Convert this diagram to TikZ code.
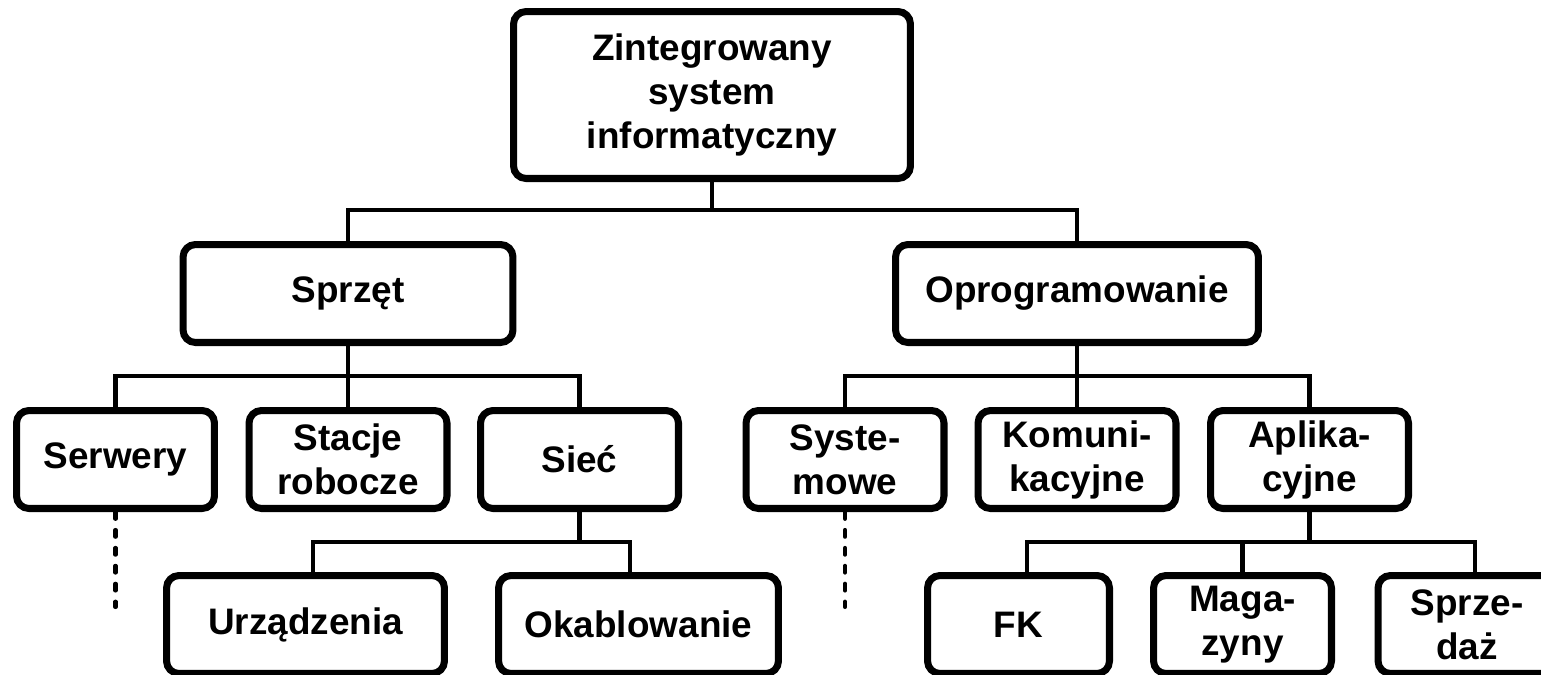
\documentclass[tikz,border=0pt]{standalone}
\usepackage{fontspec}
\setmainfont{Liberation Sans}
\usepackage{tikz}
\usetikzlibrary{positioning}

\tikzset{
  blok/.style={draw, line width=4pt, rounded corners=0.25cm, align=center,
    inner sep=0pt, minimum width=3.96cm, minimum height=1.96cm,
    font=\fontsize{21}{25}\selectfont\bfseries},
  linia/.style={line width=2.3pt},
  kreski/.style={line width=2.3pt, line cap=round, dash pattern=on 3.9pt off 6.3pt}
}

\begin{document}
\begin{tikzpicture}[x=0.02cm, y=-0.02cm]
      % scale: 1 unit = 0.02 cm, y runs downwards
      \useasboundingbox (0,0) rectangle (1541,674);
      \node[blok, minimum width=7.94cm, minimum height=3.34cm] (zis) at (712,95) {Zintegrowany\\system\\informatyczny};
      \node[blok, minimum width=6.6cm] (sprzet) at (348,293.5) {Sprzęt};
      \node[blok, minimum width=7.26cm] (oprog) at (1077,293.5) {Oprogramowanie};
      \node[blok] (serw)  at (115.5,459.5)  {Serwery};
      \node[blok] (stac)  at (348,459.5)    {Stacje\\robocze};
      \node[blok] (siec)  at (579.5,459.5)  {Sieć};
      \node[blok] (syst)  at (845,459.5)    {Syste-\\mowe};
      \node[blok] (komun) at (1077,459.5)   {Komuni-\\kacyjne};
      \node[blok] (aplik) at (1309.5,459.5) {Aplika-\\cyjne};
      \node[blok, minimum width=5.56cm] (urz)  at (305.5,624.5) {Urządzenia};
      \node[blok, minimum width=5.6cm]  (okab) at (638.5,624.5) {Okablowanie};
      \node[blok, minimum width=3.64cm] (fk)   at (1018.5,624.5) {FK};
      \node[blok, minimum width=3.56cm] (mag)  at (1242.5,624.5) {Maga-\\zyny};
      \node[blok, minimum width=3.56cm] (sprz) at (1467,624.5)   {Sprze-\\daż};
      \coordinate (serwdots) at (115.5,607);
      \coordinate (systdots) at (845,607);
      \draw[linia] (zis.south) -- ++(0,28);
      \draw[linia] (sprzet.north) -- ++(0,-31) -| (oprog.north);
      \draw[linia] (serw.north) -- ++(0,-31) -| (siec.north);
      \draw[linia] (sprzet.south) -- (stac.north);
      \draw[linia] (syst.north) -- ++(0,-31) -| (aplik.north);
      \draw[linia] (oprog.south) -- (komun.north);
      \draw[linia] (siec.south) -- ++(0,30);
      \draw[linia] ([xshift=0.15cm]urz.north) -- ++(0,-30) -| ([xshift=-0.17cm]okab.north);
      \draw[linia] (aplik.south) -- ++(0,30);
      \draw[linia] ([xshift=0.17cm]fk.north) -- ++(0,-30) -| ([xshift=0.16cm]sprz.north);
      \draw[linia] (mag.north) -- ++(0,-30);
      \draw[kreski] (serw.south) -- (serwdots);
      \draw[kreski] (syst.south) -- (systdots);
    \end{tikzpicture}
\end{document}
